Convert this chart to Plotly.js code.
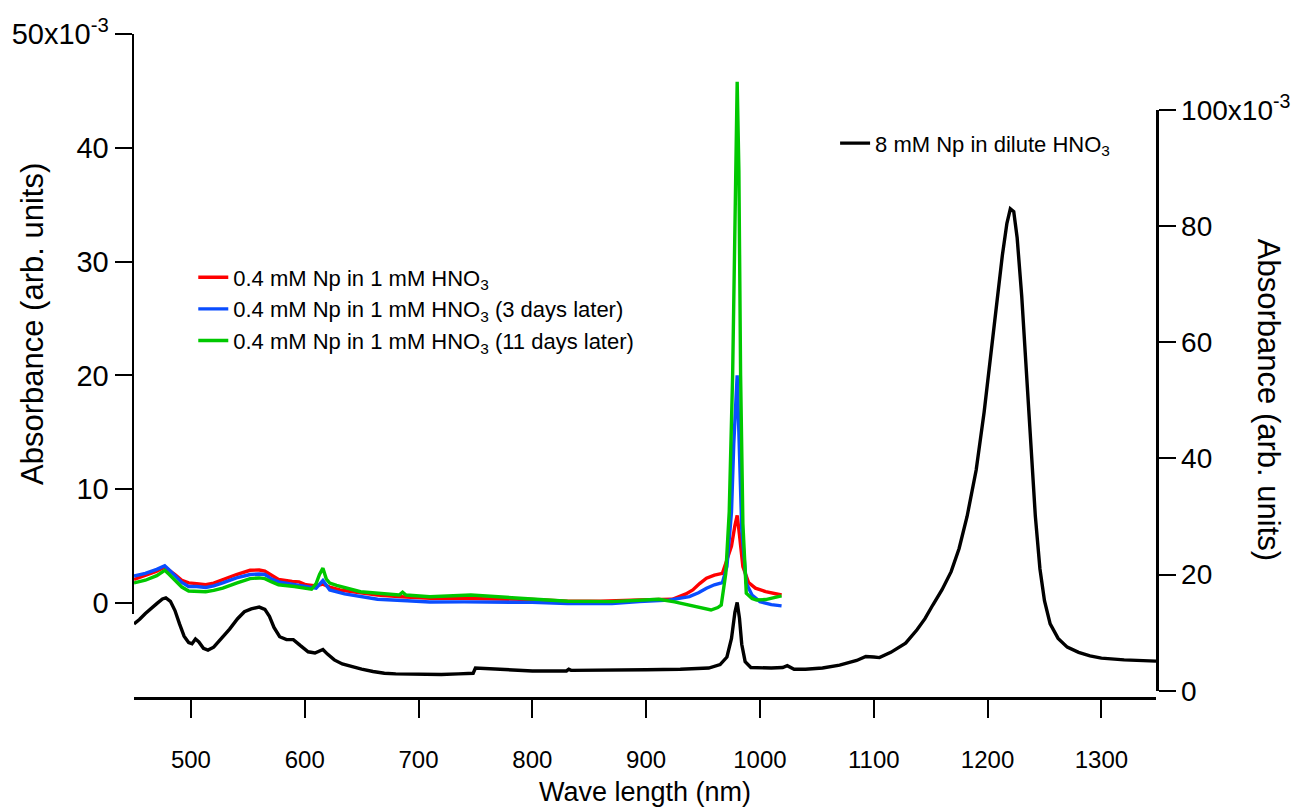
<!DOCTYPE html>
<html>
<head>
<meta charset="utf-8">
<script src="https://cdn.plot.ly/plotly-3.0.1.min.js"></script>
<style>html,body{margin:0;padding:0;background:#fff;}#chart{width:1299px;height:807px;}</style>
</head>
<body>
<div id="chart"></div>
<script>
// ---- Data ----
// Black: 8 mM Np in dilute HNO3 (right axis, x10^-3)
const blackWl = [450,455,460,465,470,475,478,482,486,490,494,498,501,504,507,511,515,520,527,534,541,547,553,560,565,569,573,578,584,590,596,603,609,613,616,620,626,633,640,650,660,670,680,700,720,735,748,750,760,780,800,830,832,834,860,880,900,930,955,965,971,975,978,980,982,984,987,992,1000,1010,1020,1024,1030,1040,1055,1070,1085,1093,1100,1105,1115,1128,1138,1145,1152,1160,1168,1175,1182,1190,1197,1203,1208,1213,1217,1220,1223,1226,1230,1234,1238,1242,1246,1250,1255,1262,1270,1280,1290,1300,1320,1335,1348];
const blackAbs = [11.5,12.3,13.3,14.2,15.0,15.8,16.0,15.4,13.8,11.5,9.4,8.3,8.1,8.9,8.4,7.3,7.0,7.5,9.0,10.6,12.4,13.6,14.1,14.4,14.0,12.8,10.9,9.3,8.8,8.8,7.8,6.7,6.5,6.8,7.1,6.3,5.3,4.6,4.2,3.7,3.3,3.0,2.9,2.8,2.8,2.9,3.0,3.9,3.8,3.6,3.4,3.4,3.7,3.5,3.5,3.6,3.6,3.7,3.9,4.5,5.8,9.0,13.5,15.2,12.5,8.0,5.0,4.0,3.9,3.9,4.0,4.3,3.7,3.7,3.9,4.4,5.2,5.9,5.8,5.7,6.6,8.2,10.5,12.4,14.8,17.4,20.5,24.5,30,38,48,58,67,75,80.5,83.0,82.5,78,68,55,42,30,21,15.5,11.5,9.0,7.5,6.6,6.0,5.6,5.3,5.2,5.1];

// Red: 0.4 mM Np in 1 mM HNO3 (left axis, x10^-3)
const redWl = [450,460,470,477,481,486,492,498,505,513,520,528,540,552,560,565,571,577,589,595,601,610,616,622,631,645,664,685,710,740,770,800,831,860,894,923,935,941,947,953,960,967,971,975,978,980,982,985,990,996,1005,1012,1019];
const redAbs = [2.06,2.4,2.8,3.17,2.9,2.5,2.0,1.76,1.7,1.6,1.75,2.06,2.5,2.87,2.9,2.8,2.4,2.06,1.9,1.85,1.6,1.5,1.65,1.4,1.14,0.95,0.7,0.55,0.4,0.4,0.35,0.3,0.15,0.15,0.26,0.32,0.8,1.14,1.7,2.17,2.45,2.6,3.8,5.0,6.8,7.7,6.0,3.2,1.8,1.3,1.0,0.85,0.7];

// Blue: 3 days later
const blueWl = [450,460,470,477,481,486,492,498,505,513,520,528,540,552,560,565,571,577,589,600,610,616,622,635,664,690,710,740,770,800,831,870,894,920,938,946,953,960,967,971,975,977,980,982,984,988,993,1000,1010,1019];
const blueAbs = [2.37,2.6,2.95,3.27,2.9,2.37,1.8,1.45,1.45,1.36,1.5,1.76,2.2,2.5,2.55,2.5,2.1,1.85,1.67,1.5,1.3,1.97,1.14,0.8,0.33,0.2,0.09,0.1,0.09,0.05,-0.06,-0.05,0.12,0.25,0.56,0.9,1.29,1.6,1.79,3.2,8.0,14,20.0,14,6.5,1.73,0.7,0.12,-0.15,-0.26];

// Green: 11 days later
const greenWl = [450,460,470,477,481,486,492,498,505,513,520,528,540,552,560,565,571,577,591,600,606,610,613,616,619,622,628,649,670,683,686,689,710,730,746,770,800,831,870,894,911,925,938,950,957,963,966,970,973,976,978,980,981.5,983,985,988,993,997,1005,1012,1019];
const greenAbs = [1.76,2.0,2.4,2.87,2.5,1.97,1.4,1.05,1.05,0.99,1.1,1.3,1.75,2.14,2.2,2.14,1.85,1.6,1.45,1.3,1.21,1.7,2.5,3.06,2.1,1.75,1.54,0.99,0.8,0.7,0.95,0.7,0.54,0.6,0.7,0.54,0.35,0.15,0.12,0.26,0.32,0.1,-0.18,-0.45,-0.62,-0.4,-0.18,2.6,8,20,35,45.8,38,20,7,0.85,0.4,0.26,0.3,0.45,0.62];

// Names and tick labels
const seriesNames = [
  "0.4 mM Np in 1 mM HNO<sub>3</sub>",
  "0.4 mM Np in 1 mM HNO<sub>3</sub> (3 days later)",
  "0.4 mM Np in 1 mM HNO<sub>3</sub> (11 days later)",
  "8 mM Np in dilute HNO<sub>3</sub>"
];
const xTicks = [500,600,700,800,900,1000,1100,1200,1300];
const leftTicks = [0,10,20,30,40,50];
const leftTickText = ["0","10","20","30","40","50x10<sup>-3</sup>"];
const rightTicks = [0,20,40,60,80,100];
const rightTickText = ["0","20","40","60","80","100x10<sup>-3</sup>"];
const xTitle = "Wave length (nm)";
const yTitle = "Absorbance (arb. units)";

const FONT = "Liberation Sans, Arial, sans-serif";

const traces = [
  {x: blackWl, y: blackAbs, type:'scatter', mode:'lines', name: seriesNames[3],
   line:{color:'#000000', width:3.4}, xaxis:'x', yaxis:'y2', legend:'legend2'},
  {x: redWl, y: redAbs, type:'scatter', mode:'lines', name: seriesNames[0],
   line:{color:'#ff0000', width:3.4}, xaxis:'x', yaxis:'y', legendgroup:'a'},
  {x: blueWl, y: blueAbs, type:'scatter', mode:'lines', name: seriesNames[1],
   line:{color:'#0a4dff', width:3.4}, xaxis:'x', yaxis:'y', legendgroup:'b'},
  {x: greenWl, y: greenAbs, type:'scatter', mode:'lines', name: seriesNames[2],
   line:{color:'#00c800', width:3.4}, xaxis:'x', yaxis:'y', legendgroup:'c'}
];

const axisCommon = {
  showgrid:false, zeroline:false, showline:true, linecolor:'#000', linewidth:2.5,
  ticks:'outside', tickcolor:'#000', tickwidth:2, ticklen:17,
  tickfont:{family:FONT, size:29, color:'#000'}
};

const layout = {
  width:1299, height:807,
  margin:{l:134, r:143, t:34, b:109},
  paper_bgcolor:'#ffffff', plot_bgcolor:'rgba(0,0,0,0)',
  showlegend:true,
  xaxis: Object.assign({}, axisCommon, {
    range:[450,1348], anchor:'free', position:0,
    tickvals:xTicks, ticktext:xTicks.map(String), ticklen:18, ticklabelstandoff:22,
    tickfont:{family:FONT, size:24, color:'#000'}
  }),
  yaxis: Object.assign({}, axisCommon, {
    range:[-0.97,50], domain:[0.1265,1], anchor:'x',
    tickvals:leftTicks, ticktext:leftTickText
  }),
  yaxis2: Object.assign({}, axisCommon, {
    range:[0,100], domain:[0.011,0.8855], anchor:'x', side:'right',
    tickvals:rightTicks, ticktext:rightTickText,
    tickfont:{family:FONT, size:28, color:'#000'}
  }),
  legend:{x:0.058, xanchor:'left', y:0.665, yanchor:'top', bgcolor:'rgba(0,0,0,0)',
    font:{family:FONT, size:22, color:'#000'}, tracegroupgap:3, traceorder:'normal'},
  legend2:{x:0.686, xanchor:'left', y:0.867, yanchor:'top', bgcolor:'rgba(0,0,0,0)',
    font:{family:FONT, size:22, color:'#000'}},
  annotations:[
    {text:yTitle, xref:'paper', yref:'paper',
     x:-0.1, y:0.563, xanchor:'center', yanchor:'middle', showarrow:false, textangle:-90,
     font:{family:FONT, size:31, color:'#000'}},
    {text:yTitle, xref:'paper', yref:'paper',
     x:1.1096, y:0.449, xanchor:'center', yanchor:'middle', showarrow:false, textangle:90,
     font:{family:FONT, size:31, color:'#000'}},
    {text:xTitle, xref:'paper', yref:'paper',
     x:0.5, y:-0.141, xanchor:'center', yanchor:'middle', showarrow:false,
     font:{family:FONT, size:27, color:'#000'}}
  ]
};

Plotly.newPlot('chart', traces, layout, {displayModeBar:false, staticPlot:true});
</script>
</body>
</html>
